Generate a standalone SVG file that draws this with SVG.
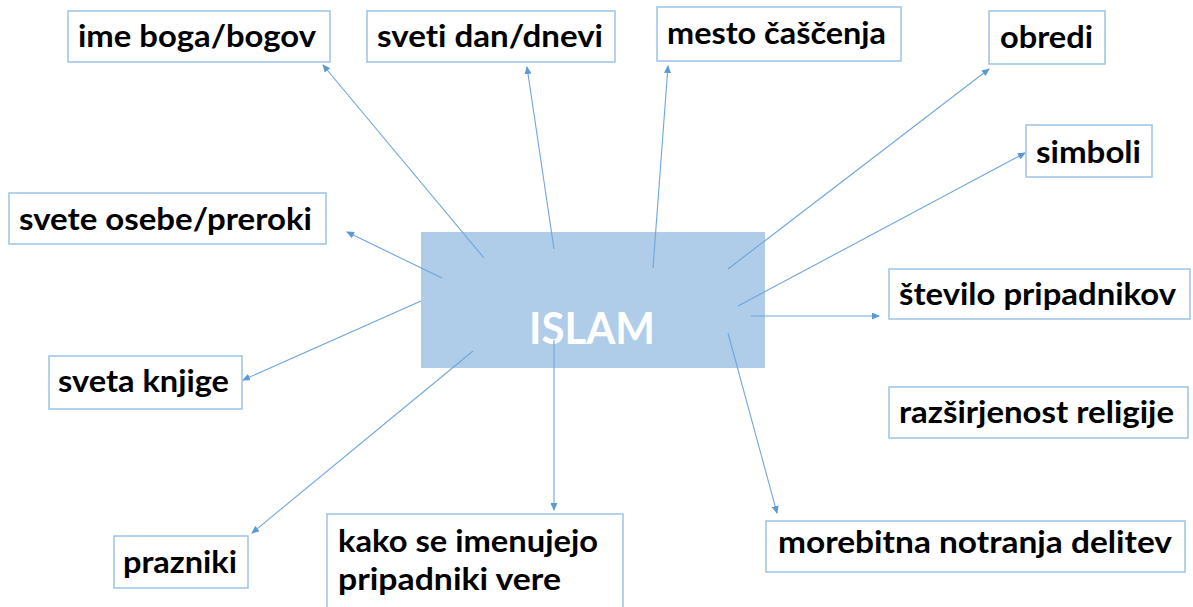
<svg xmlns="http://www.w3.org/2000/svg" width="1193" height="607" viewBox="0 0 1193 607">
  <style>
    .box { fill: #ffffff; stroke: #9DC3E6; stroke-width: 1.5; }
    .lbl { font-family: Lato, "Liberation Sans", sans-serif; font-weight: bold; font-size: 29.5px; fill: #000000; font-variant-ligatures: none; }
    .center { fill: #AFCCE9; stroke: none; }
    .ctext { font-family: Lato, "Liberation Sans", sans-serif; font-weight: bold; font-size: 44px; fill: #ffffff; font-variant-ligatures: none; }
    .conn { stroke: #6FA6DC; stroke-width: 1.1; fill: none; marker-end: url(#arr); }
  </style>
  <defs>
    <marker id="arr" markerUnits="userSpaceOnUse" markerWidth="8" markerHeight="7" refX="7" refY="3.5" orient="auto">
      <path d="M0,0 L8,3.5 L0,7 Z" fill="#5B9BD5"/>
    </marker>
  </defs>
  <rect x="0" y="0" width="1193" height="607" fill="#ffffff"/>

  <g id="node-islam">
    <rect class="center" x="421" y="232" width="344" height="136"/>
    <text class="ctext" x="529" y="344" textLength="126" lengthAdjust="spacingAndGlyphs">ISLAM</text>
  </g>

  <g id="node-ime">
    <rect class="box" x="68" y="11" width="262" height="51"/>
    <text class="lbl" x="78" y="47" textLength="238" lengthAdjust="spacingAndGlyphs">ime boga/bogov</text>
  </g>
  <g id="node-sveti-dan">
    <rect class="box" x="367" y="11" width="248" height="51"/>
    <text class="lbl" x="377" y="47" textLength="226" lengthAdjust="spacingAndGlyphs">sveti dan/dnevi</text>
  </g>
  <g id="node-mesto">
    <rect class="box" x="657" y="7" width="244" height="54"/>
    <text class="lbl" x="667" y="44" textLength="219" lengthAdjust="spacingAndGlyphs">mesto čaščenja</text>
  </g>
  <g id="node-obredi">
    <rect class="box" x="989" y="11" width="116" height="53"/>
    <text class="lbl" x="1000" y="48" textLength="93" lengthAdjust="spacingAndGlyphs">obredi</text>
  </g>
  <g id="node-simboli">
    <rect class="box" x="1026" y="125" width="126" height="52"/>
    <text class="lbl" x="1036" y="163" textLength="105" lengthAdjust="spacingAndGlyphs">simboli</text>
  </g>
  <g id="node-svete-osebe">
    <rect class="box" x="9" y="193" width="317" height="51"/>
    <text class="lbl" x="19" y="230" textLength="293" lengthAdjust="spacingAndGlyphs">svete osebe/preroki</text>
  </g>
  <g id="node-sveta-knjige">
    <rect class="box" x="49" y="356" width="193" height="53"/>
    <text class="lbl" x="58" y="392" textLength="171" lengthAdjust="spacingAndGlyphs">sveta knjige</text>
  </g>
  <g id="node-stevilo">
    <rect class="box" x="889" y="269" width="301" height="50"/>
    <text class="lbl" x="899" y="305" textLength="277" lengthAdjust="spacingAndGlyphs">število pripadnikov</text>
  </g>
  <g id="node-razsirjenost">
    <rect class="box" x="889" y="387" width="299" height="51"/>
    <text class="lbl" x="899" y="423" textLength="275" lengthAdjust="spacingAndGlyphs">razširjenost religije</text>
  </g>
  <g id="node-prazniki">
    <rect class="box" x="114" y="536" width="134" height="52"/>
    <text class="lbl" x="123" y="573" textLength="114" lengthAdjust="spacingAndGlyphs">prazniki</text>
  </g>
  <g id="node-kako">
    <rect class="box" x="327" y="514" width="296" height="120"/>
    <text class="lbl" x="338" y="552" textLength="260" lengthAdjust="spacingAndGlyphs">kako se imenujejo</text>
    <text class="lbl" x="338" y="590" textLength="223" lengthAdjust="spacingAndGlyphs">pripadniki vere</text>
  </g>
  <g id="node-morebitna">
    <rect class="box" x="766" y="521" width="419" height="51"/>
    <text class="lbl" x="778" y="553" textLength="394" lengthAdjust="spacingAndGlyphs">morebitna notranja delitev</text>
  </g>

  <g id="connectors">
    <line class="conn" x1="484" y1="258" x2="323" y2="65"/>
    <line class="conn" x1="554" y1="249" x2="527" y2="67"/>
    <line class="conn" x1="653" y1="268" x2="668" y2="66"/>
    <line class="conn" x1="728" y1="269" x2="989" y2="69"/>
    <line class="conn" x1="738" y1="306" x2="1025" y2="153"/>
    <line class="conn" x1="751" y1="316" x2="879" y2="316"/>
    <line class="conn" x1="728" y1="333" x2="777" y2="513"/>
    <line class="conn" x1="554" y1="340" x2="554" y2="510"/>
    <line class="conn" x1="473" y1="351" x2="252" y2="533"/>
    <line class="conn" x1="421" y1="301" x2="243" y2="380"/>
    <line class="conn" x1="442" y1="278" x2="347" y2="232"/>
  </g>
</svg>
